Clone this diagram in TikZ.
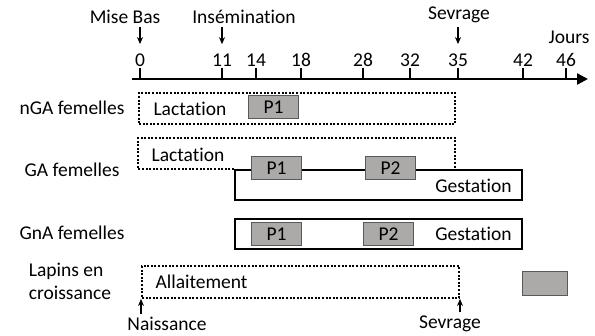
\documentclass[tikz,border=0pt]{standalone}
\usepackage{fontspec}
\setmainfont[Ligatures={NoCommon}]{Carlito}
\usepackage{xcolor}
\usetikzlibrary{positioning,arrows.meta}
\definecolor{gris}{RGB}{172,169,169}
\tikzstyle{axe} = [line width=2.4pt,-{Triangle[length=11pt,width=11pt]}]
\tikzstyle{tick} = [line width=2.4pt]
\tikzstyle{fleche} = [line width=1.1pt,-{Stealth[length=7pt,width=6pt]}]
\tikzstyle{lact} = [line width=2pt, dash pattern=on 2pt off 1.6pt]
\tikzstyle{gest} = [draw, line width=2.2pt, inner sep=0pt, anchor=north west]
\tikzstyle{pbox} = [draw=black!65, fill=gris, line width=1pt, minimum width=50pt, minimum height=23pt, inner sep=0pt, anchor=north west]

\begin{document}
\begin{tikzpicture}[x=1pt, y=-1pt, font=\fontsize{19.5}{23}\selectfont]
        \useasboundingbox (0,0) rectangle (595,336);
        % axe des jours
        \coordinate (ax0) at (132,79);
        \coordinate (ax1) at (588,79);
        \draw[axe] (ax0) -- (ax1);
        \foreach \x/\j in {140/0, 222/11, 256/14, 301/18, 363/28, 410/32, 458/35, 523/42, 566/46}
        {
            \draw[tick] (\x,68) -- (\x,79);
            \node (j\j) at (\x,60) {\j};
        }
        \node (jours) at (569,37) {Jours};
        \node (mb) at (125,17) {Mise Bas};
        \node (ins) at (244,17) {Insémination};
        \node (sev) at (459,15) {Sevrage};
        \draw[fleche] (mb.south -| j0) -- ([yshift=6pt]j0.north);
        \draw[fleche] (ins.south -| j11) -- ([yshift=6pt]j11.north);
        \draw[fleche] (sev.south -| j35) -- ([yshift=6pt]j35.north);

        % nGA femelles
        \node (nga) at (72,108) {nGA femelles};
        \node[draw, lact, minimum width=316pt, minimum height=31pt, anchor=north west] (ngaL) at (138,92) {};
        \node[right=12pt of ngaL.west] (ngaLt) {Lactation};
        \node[pbox] (ngaP1) at (248,95) {P1};

        % GA femelles
        \node (ga) at (72,170) {GA femelles};
        \node[gest, minimum width=287pt, minimum height=30pt] (gaG) at (234,169) {};
        \coordinate (lacA) at (138,138);
        \coordinate (lacB) at (455,138);
        \draw[lact] (gaG.north west) -| (lacA) -- (lacB) -- (lacB |- gaG.north);
        \node (gaLt) at (188,155) {Lactation};
        \node[left=8pt of gaG.east, yshift=-1pt] (gaGt) {Gestation};
        \node[pbox] (gaP1) at (251,156) {P1};
        \node[pbox] (gaP2) at (365,156) {P2};

        % GnA femelles
        \node (gna) at (72,233) {GnA femelles};
        \node[gest, minimum width=287pt, minimum height=30pt] (gnaG) at (234,218) {};
        \node[left=8pt of gnaG.east] (gnaGt) {Gestation};
        \node[pbox] (gnaP1) at (251,222) {P1};
        \node[pbox] (gnaP2) at (363,222) {P2};

        % lapins en croissance
        \node[align=left] (lap) at (70,281) {Lapins en\\croissance};
        \node[draw, lact, minimum width=317pt, minimum height=32pt, anchor=north west] (lapL) at (141,265) {};
        \node[right=11pt of lapL.west] (lapLt) {Allaitement};
        \node[pbox, minimum width=45pt, minimum height=24pt] (leg) at (522,271) {};
        \node (nais) at (167,324) {Naissance};
        \node (sev2) at (450,324) {Sevrage};
        \draw[fleche] (nais.north -| lapL.south west) -- (lapL.south west);
        \draw[fleche] (sev2.north -| lapL.south east) -- (lapL.south east);
\end{tikzpicture}
\end{document}
